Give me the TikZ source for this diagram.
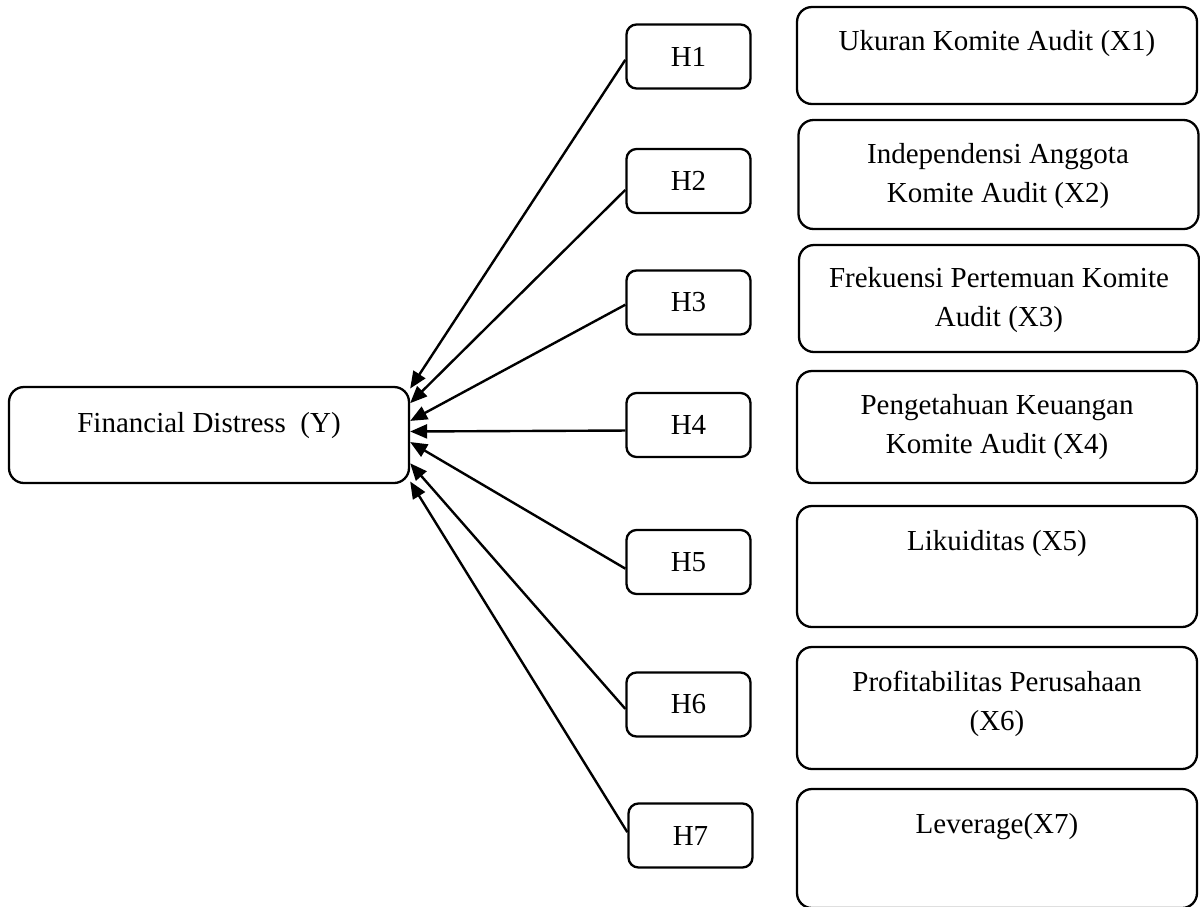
\documentclass[tikz,border=0pt]{standalone}
\usepackage{fontspec}
\setmainfont{Liberation Serif}
\usetikzlibrary{arrows.meta}
\begin{document}
\begin{tikzpicture}[x=0.5pt,y=-0.5pt,
  txt/.style={font=\fontsize{14.5pt}{19.5pt}\selectfont, inner sep=0pt, align=center},
  hbox/.style={draw, line width=1.15pt, rounded corners=5pt, minimum width=62pt, minimum height=32pt, inner sep=0pt, font=\fontsize{14.5pt}{19.5pt}\selectfont},
  xbox/.style={draw, line width=1.15pt, rounded corners=7.5pt, minimum width=200pt, inner sep=0pt},
  ybox/.style={draw, line width=1.15pt, rounded corners=7.5pt, minimum width=200pt, minimum height=48pt, inner sep=0pt},
  arr/.style={line width=1.2pt, -{Triangle[length=8.5pt,width=7pt]}}
]
\useasboundingbox (0,0) rectangle (1200,906);

% dependent variable
\node[ybox] (y) at (209,435) {};
\node[txt, anchor=north] (yt) at (209,412) {Financial Distress\ \ (Y)};

% hypothesis boxes
\node[hbox] (h1) at (688.5,56.5) {H1};
\node[hbox] (h2) at (688.5,181) {H2};
\node[hbox] (h3) at (688.5,302.5) {H3};
\node[hbox] (h4) at (688.5,425) {H4};
\node[hbox] (h5) at (688.5,562) {H5};
\node[hbox] (h6) at (688.5,704.5) {H6};
\node[hbox] (h7) at (690.5,835.5) {H7};

% independent variable boxes
\node[xbox, minimum height=48.5pt] (x1) at (997,55.5) {};
\node[xbox, minimum height=54.5pt] (x2) at (998.5,174.5) {};
\node[xbox, minimum height=53.5pt] (x3) at (999,298.5) {};
\node[xbox, minimum height=56pt] (x4) at (997,427) {};
\node[xbox, minimum height=60.5pt] (x5) at (997,566.5) {};
\node[xbox, minimum height=61pt] (x6) at (997,708) {};
\node[xbox, minimum height=59.5pt] (x7) at (997,848.5) {};

\node[txt, anchor=north] (x1t) at (997,30) {Ukuran Komite Audit (X1)};
\node[txt, anchor=north] (x2t) at (998,143) {Independensi Anggota\\Komite Audit (X2)};
\node[txt, anchor=north] (x3t) at (999,267) {Frekuensi Pertemuan Komite\\Audit (X3)};
\node[txt, anchor=north] (x4t) at (997,394) {Pengetahuan Keuangan\\Komite Audit (X4)};
\node[txt, anchor=north] (x5t) at (997,530) {Likuiditas (X5)};
\node[txt, anchor=north] (x6t) at (997,671) {Profitabilitas Perusahaan\\(X6)};
\node[txt, anchor=north] (x7t) at (997,813) {Leverage(X7)};

% connectors
\draw[arr] (h1.183.2) -- (y.13.4);
\draw[arr] (h2.188.2) -- (y.9.4);
\draw[arr] (h3.182.3) -- (y.4.9);
\draw[arr] (h4.185.5) -- (y.1.1);
\draw[arr] (h5.186.4) -- (y.-2.9);
\draw[arr] (h6.184.1) -- (y.-8.0);
\draw[arr] (h7.177.7) -- (y.-13.2);
\end{tikzpicture}
\end{document}
